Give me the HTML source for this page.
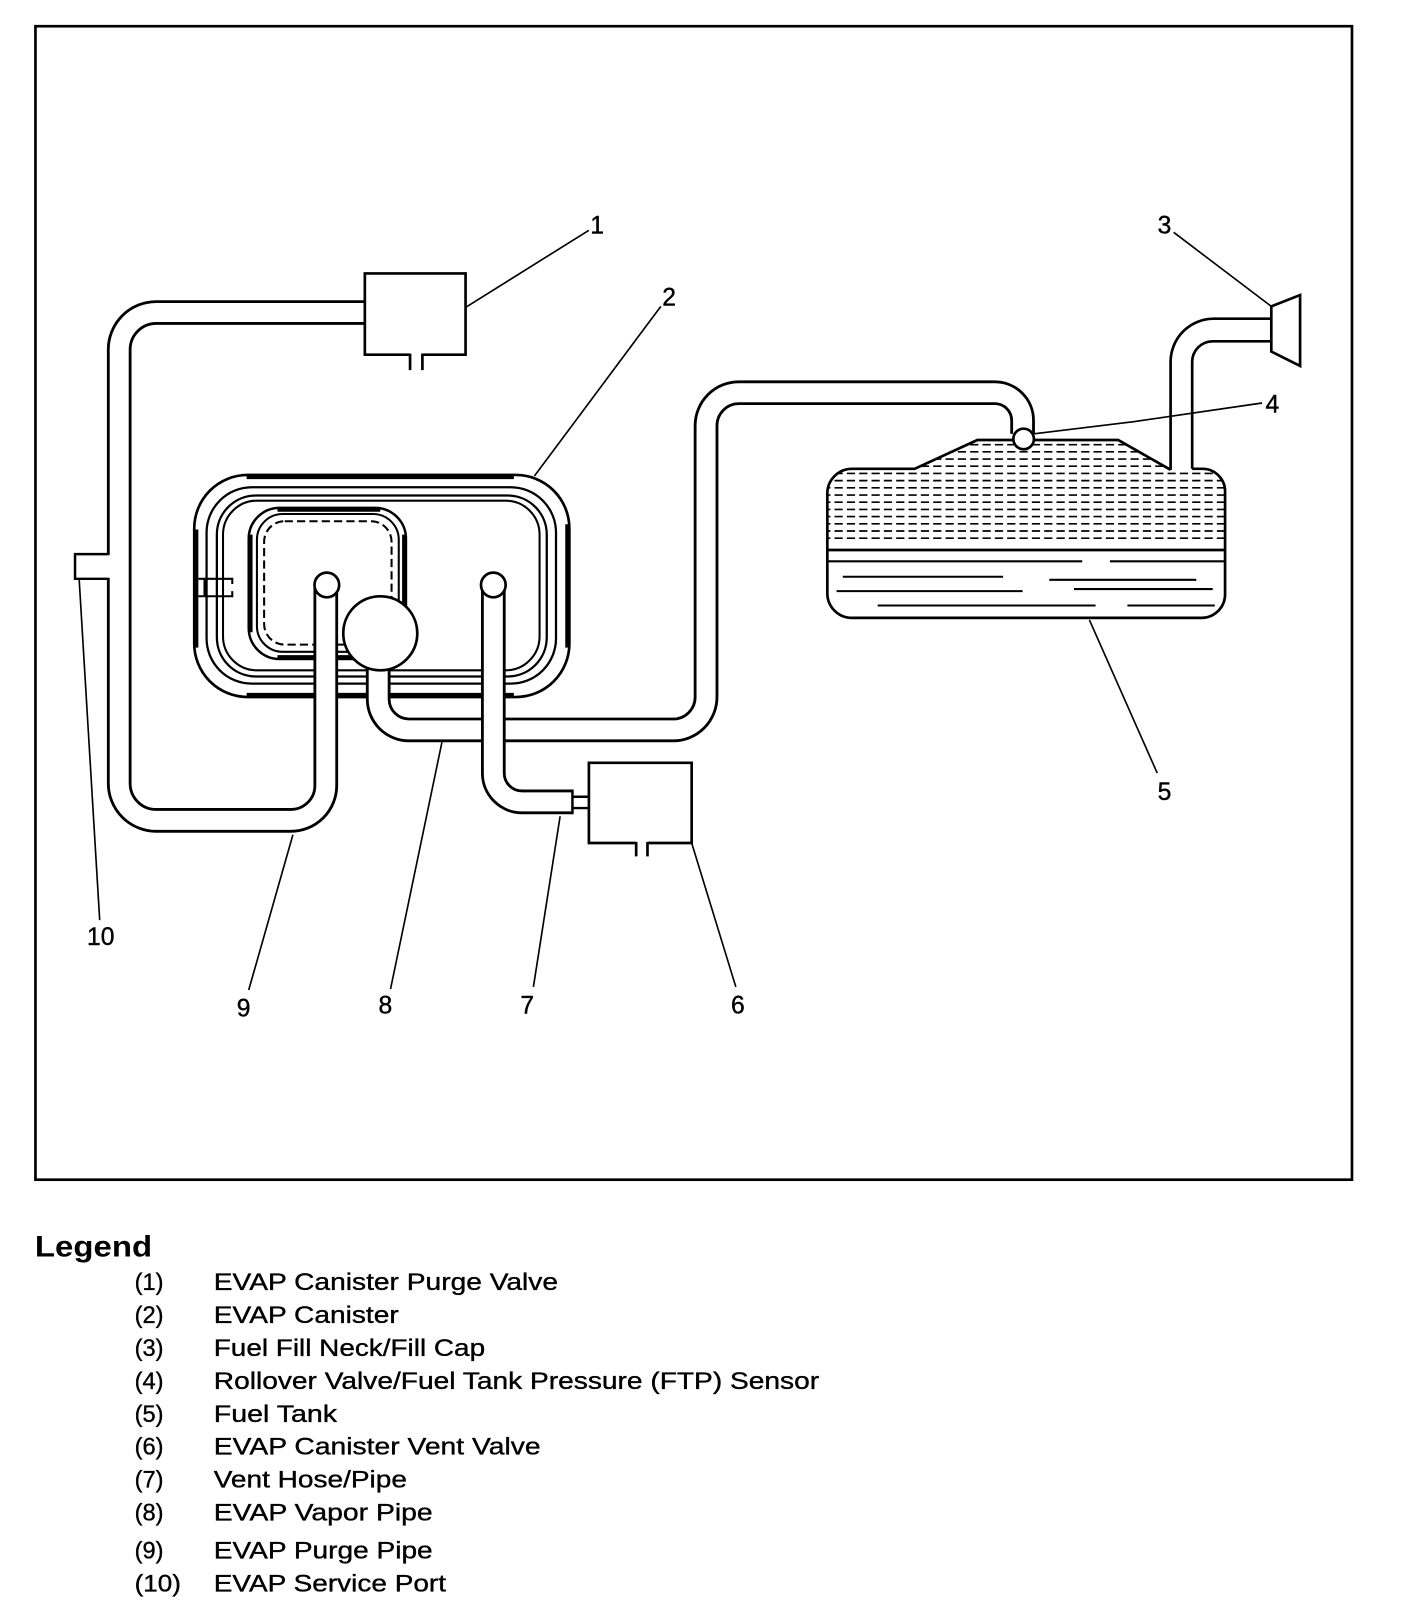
<!DOCTYPE html>
<html><head><meta charset="utf-8"><style>
html,body{margin:0;padding:0;background:#fff;}
svg{display:block;}
text{font-family:"Liberation Sans",Arial,sans-serif;fill:#000;}
</style></head><body>
<svg width="1408" height="1612" viewBox="0 0 1370 1568" preserveAspectRatio="none" xmlns="http://www.w3.org/2000/svg">
<rect x="0" y="0" width="1370" height="1568" fill="#fff"/>
<rect x="34.5" y="25.5" width="1281" height="1122" fill="none" stroke="#000" stroke-width="2.6"/>

<!-- Canister -->
<g fill="none" stroke="#000">
<rect x="189" y="462" width="365" height="216" rx="52" stroke-width="2.6"/>
<path d="M240,463.5 H500 M240,676.5 H500 M190.5,515 V630 M552.5,510 V630" stroke-width="5"/>
<rect x="201" y="474" width="340" height="191" rx="44" stroke-width="2.2"/>
<rect x="211" y="482" width="321" height="176" rx="38" stroke-width="2.2"/>
<rect x="217" y="487" width="308" height="165" rx="33" stroke-width="2"/>
<rect x="242" y="494" width="153" height="147" rx="30" stroke-width="2.4"/>
<path d="M270,495.5 H370 M243.5,520 V615 M393.5,520 V615 M270,639.5 H370" stroke-width="4.5"/>
<rect x="250" y="500" width="138" height="134" rx="25" stroke-width="2"/>
<rect x="257" y="507" width="124" height="120" rx="20" stroke-width="2" stroke-dasharray="8 4"/>
<path d="M193,563 H226 V568 M193,580 H226 V575 M199,563 V580" stroke-width="2"/>
</g>

<!-- Vapor pipe (8) -->
<path d="M368,650 V680 A30,30 0 0 0 398,710 H655 A32,32 0 0 0 687,678 V414 A32,32 0 0 1 719,382 H968 A27,27 0 0 1 995,409 V422" fill="none" stroke="#000" stroke-width="24"/>
<path d="M368,645 V680 A30,30 0 0 0 398,710 H655 A32,32 0 0 0 687,678 V414 A32,32 0 0 1 719,382 H968 A27,27 0 0 1 995,409 V424" fill="none" stroke="#fff" stroke-width="18.5"/>

<!-- Purge pipe (9) -->
<path d="M355,304 H152 A36,36 0 0 0 116,340 V762 A36,36 0 0 0 152,798 H283 A34,34 0 0 0 317,764 V572" fill="none" stroke="#000" stroke-width="24"/>
<path d="M356,304 H152 A36,36 0 0 0 116,340 V762 A36,36 0 0 0 152,798 H283 A34,34 0 0 0 317,764 V570" fill="none" stroke="#fff" stroke-width="18.5"/>

<!-- Vent pipe (7) -->
<path d="M480,572 V752 A28,28 0 0 0 508,780 H557" fill="none" stroke="#000" stroke-width="24"/>
<path d="M480,570 V752 A28,28 0 0 0 508,780 H556" fill="none" stroke="#fff" stroke-width="18.5"/>
<path d="M557,768 V792 M558,775 H574 M558,786 H574" stroke="#000" stroke-width="2.4" fill="none"/>

<!-- circles -->
<circle cx="318" cy="569" r="12" fill="#fff" stroke="#000" stroke-width="2.6"/>
<circle cx="480" cy="569" r="12" fill="#fff" stroke="#000" stroke-width="2.6"/>
<circle cx="370" cy="616" r="36" fill="#fff" stroke="#000" stroke-width="2.6"/>

<!-- Service port -->
<rect x="102" y="540" width="6" height="22" fill="#fff"/>
<polyline points="105,539 73,539 73,563 105,563" fill="#fff" stroke="#000" stroke-width="2.4"/>

<!-- Purge valve box -->
<rect x="356.3" y="267.3" width="95.4" height="76.4" fill="#fff"/>
<polyline points="399,345 355,345 355,266 453,266 453,345 411,345" fill="none" stroke="#000" stroke-width="2.6" stroke-linejoin="miter"/>
<path d="M399,344 V360 M411,344 V360" fill="none" stroke="#000" stroke-width="2.6"/>

<!-- Vent valve box -->
<rect x="574" y="743" width="98" height="76" fill="#fff"/>
<polyline points="619,820 573,820 573,742 673,742 673,820 630,820" fill="none" stroke="#000" stroke-width="2.6"/>
<path d="M619,819 V833 M630,819 V833" fill="none" stroke="#000" stroke-width="2.6"/>

<!-- Fuel tank -->
<defs>
<clipPath id="tk"><path d="M829,456 H890 L951,428 H1088 L1139,457 H1170 A22,22 0 0 1 1192,479 V578 A23,23 0 0 1 1169,601 H829 A24,24 0 0 1 805,577 V480 A24,24 0 0 1 829,456 Z"/></clipPath>
</defs>
<g clip-path="url(#tk)" stroke="#000" stroke-width="1.6" stroke-dasharray="8 4">
<path d="M800,432.5 H1200 M800,439.5 H1200 M800,446.5 H1200 M800,453.5 H1200 M800,460.5 H1200 M800,467.5 H1200 M800,474.5 H1200 M800,481.5 H1200 M800,488.5 H1200 M800,495.5 H1200 M800,502.5 H1200 M800,509.5 H1200 M800,516.5 H1200 M800,523.5 H1200"/>
</g>
<g stroke="#000" stroke-width="2" fill="none">
<path d="M805,535 H1192" stroke-width="2.6"/>
<path d="M805,546 H1053 M1080,546 H1192 M820,561 H976 M1021,564 H1164 M814,575 H995 M1045,573 H1180 M854,589 H1066 M1097,589 H1182"/>
</g>
<path d="M1139,457 L1088,428 H951 L890,456 H829 A24,24 0 0 0 805,480 V577 A24,24 0 0 0 829,601 H1169 A23,23 0 0 0 1192,578 V479 A22,22 0 0 0 1170,456 H1160" fill="none" stroke="#000" stroke-width="2.6"/>
<path d="M1139,457 V352 A42,42 0 0 1 1181,310 H1237 M1160,456 V352 A20,20 0 0 1 1180,332 H1237" fill="none" stroke="#000" stroke-width="2.6"/>
<polygon points="1237,298 1265,287 1265,356 1237,342" fill="#fff" stroke="#000" stroke-width="2.6"/>
<circle cx="996" cy="427" r="10" fill="#fff" stroke="#000" stroke-width="2.6"/>

<!-- Leaders -->
<g stroke="#000" stroke-width="1.6" fill="none">
<path d="M453,299 L573,224"/>
<path d="M520,463 L643,298"/>
<path d="M1237,298 L1142,226"/>
<path d="M1006,422 L1104,410 L1228,392"/>
<path d="M1060,603 L1126,752"/>
<path d="M673,820 L716,960"/>
<path d="M545,794 L519,960"/>
<path d="M430,722 L380,962"/>
<path d="M285,812 L242,963"/>
<path d="M77,563 L97,895"/>
</g>

<!-- Labels -->
<g font-size="24" text-anchor="middle" stroke="#000" stroke-width="0.4">
<text x="581" y="227">1</text>
<text x="651" y="297">2</text>
<text x="1133" y="227">3</text>
<text x="1238" y="401">4</text>
<text x="1133" y="778">5</text>
<text x="718" y="986">6</text>
<text x="513" y="986">7</text>
<text x="375" y="986">8</text>
<text x="237" y="989">9</text>
<text x="98" y="919">10</text>
</g>

<!-- Legend -->
<text x="34" y="1222" font-size="29" font-weight="bold" textLength="114" lengthAdjust="spacingAndGlyphs">Legend</text>
<g font-size="23" stroke="#000" stroke-width="0.35">
<text x="131" y="1255">(1)</text><text x="208" y="1255" textLength="335" lengthAdjust="spacingAndGlyphs">EVAP Canister Purge Valve</text>
<text x="131" y="1287">(2)</text><text x="208" y="1287" textLength="180" lengthAdjust="spacingAndGlyphs">EVAP Canister</text>
<text x="131" y="1319">(3)</text><text x="208" y="1319" textLength="264" lengthAdjust="spacingAndGlyphs">Fuel Fill Neck/Fill Cap</text>
<text x="131" y="1351">(4)</text><text x="208" y="1351" textLength="589" lengthAdjust="spacingAndGlyphs">Rollover Valve/Fuel Tank Pressure (FTP) Sensor</text>
<text x="131" y="1383">(5)</text><text x="208" y="1383" textLength="120" lengthAdjust="spacingAndGlyphs">Fuel Tank</text>
<text x="131" y="1415">(6)</text><text x="208" y="1415" textLength="318" lengthAdjust="spacingAndGlyphs">EVAP Canister Vent Valve</text>
<text x="131" y="1447">(7)</text><text x="208" y="1447" textLength="188" lengthAdjust="spacingAndGlyphs">Vent Hose/Pipe</text>
<text x="131" y="1479">(8)</text><text x="208" y="1479" textLength="213" lengthAdjust="spacingAndGlyphs">EVAP Vapor Pipe</text>
<text x="131" y="1516">(9)</text><text x="208" y="1516" textLength="213" lengthAdjust="spacingAndGlyphs">EVAP Purge Pipe</text>
<text x="131" y="1548" textLength="45" lengthAdjust="spacingAndGlyphs">(10)</text><text x="208" y="1548" textLength="226" lengthAdjust="spacingAndGlyphs">EVAP Service Port</text>
</g>
</svg>
</body></html>
